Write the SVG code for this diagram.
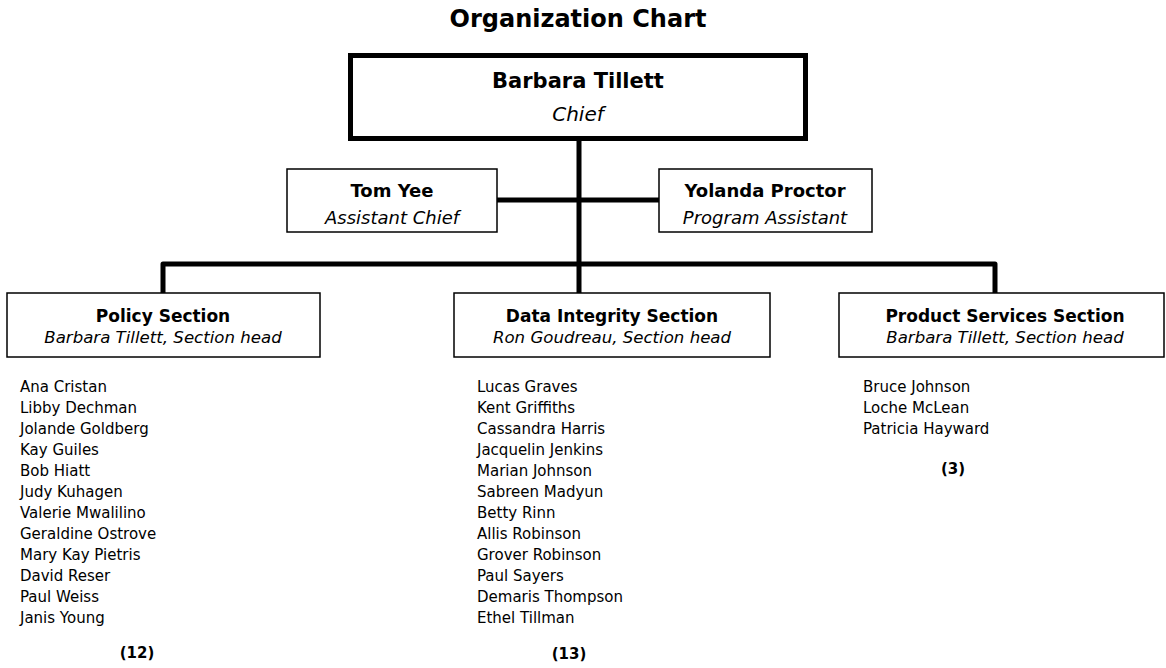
<svg xmlns="http://www.w3.org/2000/svg" width="1166" height="668" viewBox="0 0 1166 668">
<style>
text{font-family:"DejaVu Sans","Liberation Sans",sans-serif;fill:#000}
.c{text-anchor:middle}
.b{font-weight:bold}
.i{font-style:italic}
.box{fill:#fff;stroke:#000;stroke-width:1.5}
.conn{fill:none;stroke:#000;stroke-width:5;stroke-linejoin:round}
.list{font-size:15px}
</style>
<rect width="1166" height="668" fill="#fff"/>
<text class="c b" x="578" y="27" font-size="24">Organization Chart</text>
<g id="connectors">
<path class="conn" d="M579 141 V293"/>
<path class="conn" d="M497 200 H659"/>
<path class="conn" d="M163 293 V264 H995 V293"/>
</g>
<g id="chief">
<rect x="350.5" y="55.5" width="455" height="83" fill="#fff" stroke="#000" stroke-width="5"/>
<text class="c b" x="578" y="88" font-size="21">Barbara Tillett</text>
<text class="c i" x="578" y="121" font-size="20">Chief</text>
</g>
<g id="tom-yee">
<rect class="box" x="287" y="169" width="210" height="63"/>
<text class="c b" x="392" y="197" font-size="18">Tom Yee</text>
<text class="c i" x="392" y="224" font-size="18">Assistant Chief</text>
</g>
<g id="yolanda-proctor">
<rect class="box" x="659" y="169" width="213" height="63"/>
<text class="c b" x="765" y="197" font-size="18">Yolanda Proctor</text>
<text class="c i" x="765" y="224" font-size="18">Program Assistant</text>
</g>
<g id="policy-section">
<rect class="box" x="7" y="293" width="313" height="64"/>
<text class="c b" x="163" y="322" font-size="17">Policy Section</text>
<text class="c i" x="163" y="343" font-size="16.6">Barbara Tillett, Section head</text>
</g>
<g id="data-integrity-section">
<rect class="box" x="454" y="293" width="316" height="64"/>
<text class="c b" x="612" y="322" font-size="17">Data Integrity Section</text>
<text class="c i" x="612" y="343" font-size="16.6">Ron Goudreau, Section head</text>
</g>
<g id="product-services-section">
<rect class="box" x="839" y="293" width="325" height="64"/>
<text class="c b" x="1005" y="322" font-size="17">Product Services Section</text>
<text class="c i" x="1005" y="343" font-size="16.6">Barbara Tillett, Section head</text>
</g>
<g id="policy-staff" class="list">
<text x="20" y="392">Ana Cristan</text>
<text x="20" y="413">Libby Dechman</text>
<text x="20" y="434">Jolande Goldberg</text>
<text x="20" y="455">Kay Guiles</text>
<text x="20" y="476">Bob Hiatt</text>
<text x="20" y="497">Judy Kuhagen</text>
<text x="20" y="518">Valerie Mwalilino</text>
<text x="20" y="539">Geraldine Ostrove</text>
<text x="20" y="560">Mary Kay Pietris</text>
<text x="20" y="581">David Reser</text>
<text x="20" y="602">Paul Weiss</text>
<text x="20" y="623">Janis Young</text>
<text class="c b" x="137" y="658">(12)</text>
</g>
<g id="data-staff" class="list">
<text x="477" y="392">Lucas Graves</text>
<text x="477" y="413">Kent Griffiths</text>
<text x="477" y="434">Cassandra Harris</text>
<text x="477" y="455">Jacquelin Jenkins</text>
<text x="477" y="476">Marian Johnson</text>
<text x="477" y="497">Sabreen Madyun</text>
<text x="477" y="518">Betty Rinn</text>
<text x="477" y="539">Allis Robinson</text>
<text x="477" y="560">Grover Robinson</text>
<text x="477" y="581">Paul Sayers</text>
<text x="477" y="602">Demaris Thompson</text>
<text x="477" y="623">Ethel Tillman</text>
<text class="c b" x="569" y="659">(13)</text>
</g>
<g id="product-staff" class="list">
<text x="863" y="392">Bruce Johnson</text>
<text x="863" y="413">Loche McLean</text>
<text x="863" y="434">Patricia Hayward</text>
<text class="c b" x="953" y="474">(3)</text>
</g>
</svg>
